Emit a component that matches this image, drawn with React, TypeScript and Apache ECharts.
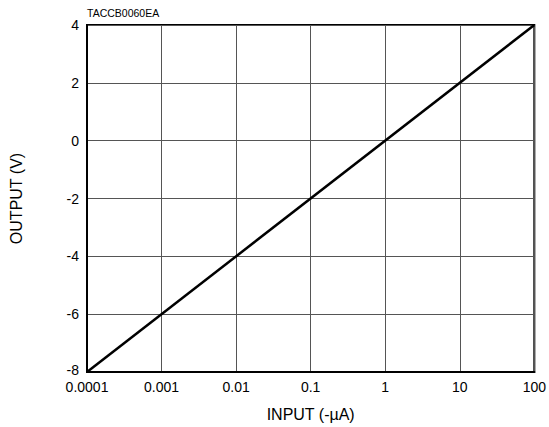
import React, { useEffect, useRef } from "react";
import * as echarts from "echarts";

const inputValues = [0.0001, 100];
const outputValues = [-8, 4];
const xTicks = ["0.0001", "0.001", "0.01", "0.1", "1", "10", "100"];
const titleText = "TACCB0060EA";
const xName = "INPUT (-µA)";
const yName = "OUTPUT (V)";

export default function App() {
  const ref = useRef<HTMLDivElement>(null);
  useEffect(() => {
    if (!ref.current) return;
    const chart = echarts.init(ref.current, undefined, { renderer: "svg" });
    const font = "Liberation Sans, Arial, sans-serif";
    chart.setOption({
      animation: false,
      title: {
        text: titleText,
        left: 82,
        top: 2,
        textStyle: { fontSize: 10.5, fontWeight: "normal", color: "#000", fontFamily: font },
      },
      grid: {
        left: 86,
        right: 12,
        top: 25,
        bottom: 55,
        show: true,
        borderColor: "#000",
        borderWidth: 2,
      },
      xAxis: {
        type: "log",
        logBase: 10,
        min: 0.0001,
        max: 100,
        name: xName,
        nameLocation: "middle",
        nameGap: 34,
        nameTextStyle: { fontSize: 16, color: "#000", fontFamily: font },
        axisLine: { show: true, onZero: false, lineStyle: { color: "#000", width: 2 } },
        axisTick: { show: false },
        axisLabel: {
          fontSize: 14,
          lineHeight: 12,
          color: "#000",
          fontFamily: font,
          margin: 9,
          formatter: (v: number) => {
            const e = Math.round(Math.log10(v));
            return xTicks[e + 4] ?? String(v);
          },
        },
        splitLine: { show: true, lineStyle: { color: "#555", width: 1 } },
        minorTick: { show: false },
      },
      yAxis: {
        type: "value",
        min: -8,
        max: 4,
        interval: 2,
        name: yName,
        nameLocation: "middle",
        nameGap: 63,
        nameTextStyle: { fontSize: 16, color: "#000", fontFamily: font },
        axisLine: { show: true, onZero: false, lineStyle: { color: "#000", width: 2 } },
        axisTick: { show: false },
        axisLabel: {
          fontSize: 14,
          lineHeight: 12,
          color: "#000",
          fontFamily: font,
          margin: 8,
          formatter: (v: number) => (v === -8 ? "{lo|" + v + "}" : String(v)),
          rich: {
            lo: { fontSize: 14, lineHeight: 12, fontFamily: font, color: "#000", padding: [0, 0, 4, 0] },
          },
        },
        splitLine: { show: true, lineStyle: { color: "#555", width: 1 } },
      },
      series: [
        {
          type: "line",
          data: inputValues.map((x, i) => [x, outputValues[i]]),
          symbol: "none",
          lineStyle: { color: "#000", width: 2.5 },
        },
      ],
    });
    return () => chart.dispose();
  }, []);
  return <div ref={ref} style={{ width: 549, height: 427, position: "absolute", left: 0, top: 0 }} />;
}
